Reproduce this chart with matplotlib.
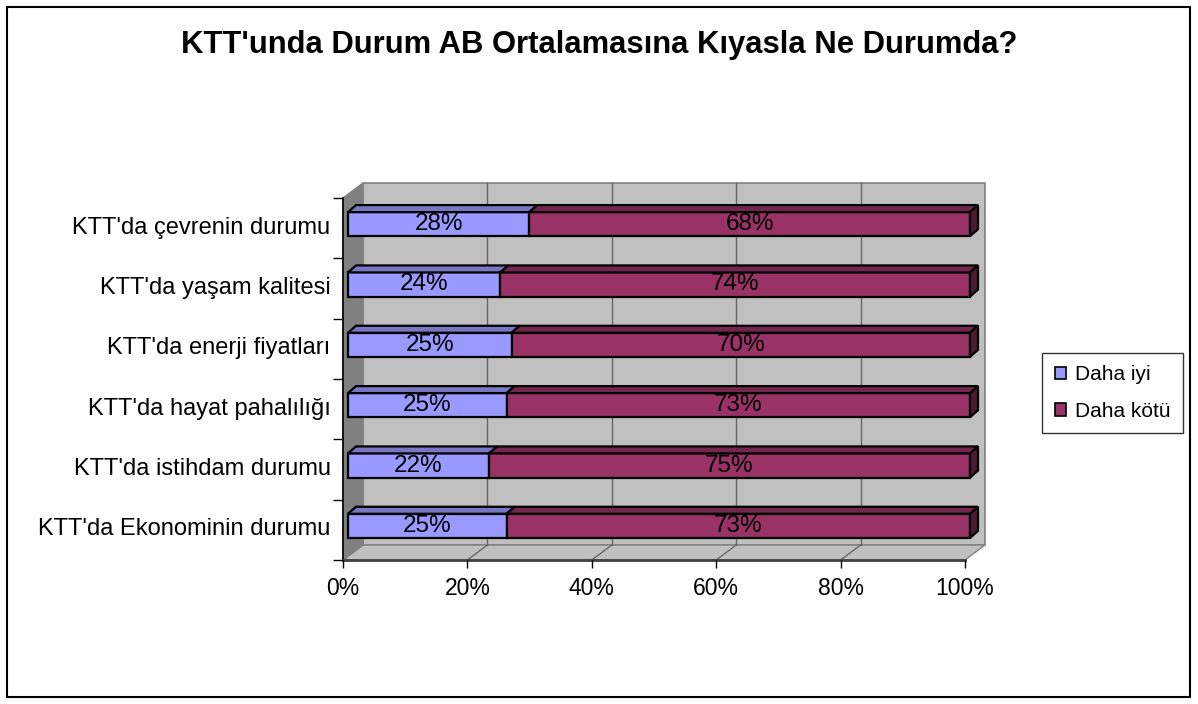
import matplotlib
matplotlib.use("Agg")
import matplotlib.pyplot as plt
from matplotlib.patches import Polygon, Rectangle, Patch
from matplotlib.ticker import FixedLocator, PercentFormatter
from matplotlib.transforms import ScaledTranslation

plt.rcParams['font.family'] = ['Liberation Sans', 'DejaVu Sans']

title = "KTT'unda Durum AB Ortalamasına Kıyasla Ne Durumda?"
categories = ["KTT'da Ekonominin durumu", "KTT'da istihdam durumu",
              "KTT'da hayat pahalılığı", "KTT'da enerji fiyatları",
              "KTT'da yaşam kalitesi", "KTT'da çevrenin durumu"]
series_names = ["Daha iyi", "Daha kötü"]
daha_iyi = [25, 22, 25, 25, 24, 28]
daha_kotu = [73, 75, 73, 70, 74, 68]
x_ticks = [0, 0.2, 0.4, 0.6, 0.8, 1.0]

front_cols = ["#9999FF", "#993366"]
top_cols = ["#7777C4", "#74264F"]
side_cols = ["#5A5A99", "#4D1A33"]

W, H = 1198, 704
fig = plt.figure(figsize=(W / 100, H / 100), dpi=100)

# axes front plane in pixels
x0, x1 = 343, 965
ytop, ybot = 198, 560
ax = fig.add_axes([x0 / W, 1 - ybot / H, (x1 - x0) / W, (ybot - ytop) / H])
n = len(categories)
ax.set_xlim(0, 1)
ax.set_ylim(-0.5, n - 0.5)
pxx = 1 / (x1 - x0)           # data units per pixel (x)
pxy = n / (ybot - ytop)       # data units per pixel (y)
for s in ax.spines.values():
    s.set_visible(False)
ax.patch.set_visible(False)

# walls
bdx, bdy = 20 * pxx, 15 * pxy
back = Rectangle((bdx, -0.5 + bdy), 1, n, facecolor="#C0C0C0",
                 edgecolor="#808080", lw=1.2, clip_on=False, zorder=0)
ax.add_patch(back)
floor = Polygon([(0, -0.5), (1, -0.5), (1 + bdx, -0.5 + bdy), (bdx, -0.5 + bdy)],
                closed=True, facecolor="#C0C0C0", edgecolor="#808080", lw=1.0,
                clip_on=False, zorder=0.5)
ax.add_patch(floor)
left = Polygon([(0, -0.5), (bdx, -0.5 + bdy), (bdx, n - 0.5 + bdy), (0, n - 0.5)],
               closed=True, facecolor="#808080", edgecolor="#808080", lw=1.0,
               clip_on=False, zorder=0.6)
ax.add_patch(left)
for xv in x_ticks[1:-1]:
    ax.plot([xv + bdx, xv + bdx], [-0.5 + bdy, n - 0.5 + bdy], color="#666666",
            lw=1.0, clip_on=False, zorder=0.7)
    ax.plot([xv, xv + bdx], [-0.5, -0.5 + bdy], color="#666666",
            lw=1.0, clip_on=False, zorder=0.7)
# axis lines
ax.plot([0, 0], [-0.5, n - 0.5], color="#000000", lw=1.2, clip_on=False, zorder=1)
ax.plot([0, 1], [-0.5, -0.5], color="#404040", lw=2.0, clip_on=False, zorder=1)

# bars
fdx, fdy = 5 * pxx, 4 * pxy
ddx, ddy = 8 * pxx, 7 * pxy
bh = 0.4
for i in range(n):
    vals = [daha_iyi[i], daha_kotu[i]]
    tot = sum(vals)
    start = 0.0
    for j, v in enumerate(vals):
        w = v / tot
        l = start + fdx
        b = i - bh / 2 + fdy
        ax.add_patch(Rectangle((l, b), w, bh, facecolor=front_cols[j],
                               edgecolor="black", lw=1.6, clip_on=False, zorder=3))
        ax.add_patch(Polygon([(l, b + bh), (l + w, b + bh), (l + w + ddx, b + bh + ddy),
                              (l + ddx, b + bh + ddy)], closed=True,
                             facecolor=top_cols[j], edgecolor="black", lw=1.6,
                             clip_on=False, zorder=3))
        if j == len(vals) - 1:
            ax.add_patch(Polygon([(l + w, b), (l + w, b + bh), (l + w + ddx, b + bh + ddy),
                                  (l + w + ddx, b + ddy)], closed=True,
                                 facecolor=side_cols[j], edgecolor="black", lw=1.6,
                                 clip_on=False, zorder=3))
        ax.text(l + w / 2, i + fdy, f"{v}%", ha="center", va="center",
                fontsize=17.5, color="black", zorder=4)
        start += w

# ticks
ax.set_yticks(range(n))
ax.set_yticklabels(categories, fontsize=17)
ax.tick_params(axis="y", length=0, pad=9)
shift = ScaledTranslation(0, 0.03, fig.dpi_scale_trans)
for lab in ax.get_yticklabels():
    lab.set_transform(lab.get_transform() + shift)
ax.yaxis.set_minor_locator(FixedLocator([k - 0.5 for k in range(n + 1)]))
ax.tick_params(axis="y", which="minor", length=7, width=1, color="black")
ax.set_xticks(x_ticks)
ax.xaxis.set_major_formatter(PercentFormatter(1.0, decimals=0))
ax.tick_params(axis="x", length=6, width=1, color="black", labelsize=16.5, pad=6)

fig.text(0.5, 1 - 45 / H, title, ha="center", va="center", fontsize=22.3,
         fontweight="bold")

handles = [Patch(facecolor=front_cols[k], edgecolor="black", lw=1.2) for k in range(2)]
leg = fig.legend(handles, series_names, loc="center left",
                 bbox_to_anchor=(1042 / W, 1 - 393 / H), fontsize=15,
                 frameon=True, fancybox=False, edgecolor="black",
                 handlelength=0.55, handleheight=0.55, handletextpad=0.45,
                 labelspacing=0.85, borderpad=0.6, borderaxespad=0)
leg.get_frame().set_linewidth(1.0)

fig.patches.append(Rectangle((7 / W, 7 / H), 1183 / W, 690 / H, transform=fig.transFigure,
                             fill=False, edgecolor="black", lw=1.5))

fig.savefig("out.png", dpi=100)
